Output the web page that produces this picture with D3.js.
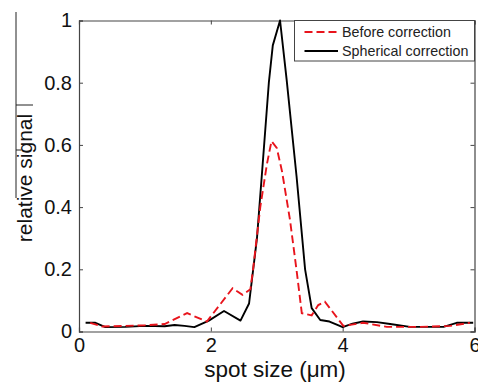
<!DOCTYPE html>
<html><head><meta charset="utf-8">
<script src="https://cdn.jsdelivr.net/npm/d3@7"></script>
<style>body{margin:0;background:#fff}svg{display:block}text{font-family:"Liberation Sans",Arial,sans-serif}</style>
</head><body>
<svg id="c" width="478" height="385"></svg>
<script>
const xTicks = [0, 2, 4, 6];
const yTicks = [0, 0.2, 0.4, 0.6, 0.8, 1];
const yTickLabels = ["0", "0.2", "0.4", "0.6", "0.8", "1"];
const seriesNames = ["Before correction", "Spherical correction"];
const beforeX = [0.17,0.35,0.7,1.0,1.3,1.64,1.94,2.33,2.48,2.6,2.64,2.75,2.85,2.92,3.0,3.08,3.2,3.3,3.38,3.53,3.63,3.73,4.01,4.31,4.67,5.17,5.63,5.93];
const beforeY = [0.028,0.016,0.018,0.02,0.024,0.059,0.032,0.139,0.118,0.136,0.198,0.40,0.537,0.612,0.59,0.515,0.36,0.198,0.059,0.052,0.085,0.096,0.018,0.028,0.015,0.015,0.018,0.028];
const sphX = [0.1,0.25,0.4,0.7,1.0,1.3,1.45,1.6,1.75,1.97,2.2,2.45,2.58,2.7,2.78,2.88,2.94,3.05,3.15,3.3,3.43,3.53,3.66,3.8,3.91,4.0,4.15,4.31,4.52,4.72,5.02,5.53,5.73,5.98];
const sphY = [0.028,0.028,0.014,0.015,0.018,0.017,0.021,0.018,0.014,0.035,0.066,0.035,0.09,0.30,0.52,0.80,0.92,1.0,0.81,0.50,0.20,0.075,0.037,0.032,0.022,0.014,0.025,0.032,0.03,0.024,0.015,0.015,0.028,0.028];

const svg = d3.select("#c");
const L = 79, R = 474.5, T = 20.5, B = 331.5;
const x = d3.scaleLinear().domain([0, 6]).range([L, R]);
const y = d3.scaleLinear().domain([0, 1]).range([B, T]);
const axisCol = "#444";

// artifact line at far left
svg.append("line").attr("x1",16).attr("x2",16).attr("y1",12).attr("y2",198).attr("stroke","#222").attr("stroke-width",1);
svg.append("line").attr("x1",16).attr("x2",33).attr("y1",105).attr("y2",105).attr("stroke","#222").attr("stroke-width",1);
svg.append("line").attr("x1",16).attr("x2",21).attr("y1",150).attr("y2",150).attr("stroke","#222").attr("stroke-width",1);

const fs = 20;
const xAxis = d3.axisBottom(x).tickValues(xTicks).tickSize(-4).tickPadding(6).tickFormat(d3.format("d"));
const gx = svg.append("g").attr("transform", `translate(0,${B})`).call(xAxis);
const yAxis = d3.axisLeft(y).tickValues(yTicks).tickSize(-4).tickPadding(7).tickFormat((d,i)=>yTickLabels[i]);
const gy = svg.append("g").attr("transform", `translate(${L},0)`).call(yAxis);
const gxt = svg.append("g").attr("transform", `translate(0,${T})`).call(d3.axisTop(x).tickValues(xTicks).tickSize(-4).tickFormat(""));
const gyr = svg.append("g").attr("transform", `translate(${R},0)`).call(d3.axisRight(y).tickValues(yTicks).tickSize(-4).tickFormat(""));
[gx, gy, gxt, gyr].forEach(g => {
  g.select(".domain").attr("stroke", axisCol).attr("stroke-width", 1.2);
  g.selectAll(".tick line").attr("stroke", axisCol);
  g.selectAll("text").attr("font-size", fs).attr("fill", "#111").attr("font-family", '"Liberation Sans",Arial,sans-serif');
});

const line = d3.line().x(d => x(d[0])).y(d => y(d[1]));
const before = beforeX.map((v,i)=>[v, beforeY[i]]);
const sph = sphX.map((v,i)=>[v, sphY[i]]);
svg.append("path").datum(sph).attr("d", line).attr("fill","none").attr("stroke","#000").attr("stroke-width",1.9).attr("stroke-linejoin","round");
svg.append("path").datum(before).attr("d", line).attr("fill","none").attr("stroke","#e8141c").attr("stroke-width",1.9).attr("stroke-dasharray","8,4");

svg.append("text").attr("x", 275).attr("y", 377).attr("text-anchor","middle").attr("font-size", 22.5).attr("fill","#111").text("spot size (\u03bcm)");
svg.append("text").attr("transform", `translate(32,178) rotate(-90)`).attr("text-anchor","middle").attr("font-size", 21).attr("fill","#111").text("relative signal");

const lg = svg.append("g");
lg.append("rect").attr("x",294.5).attr("y",T).attr("width",R-294.5).attr("height",40.5).attr("fill","#fff").attr("stroke",axisCol).attr("stroke-width",1);
const rows = [{n:seriesNames[0], c:"#e8141c", d:"8,4", yy:32},{n:seriesNames[1], c:"#000", d:null, yy:51}];
rows.forEach(r => {
  const ln = lg.append("line").attr("x1",304.5).attr("x2",338).attr("y1",r.yy).attr("y2",r.yy).attr("stroke",r.c).attr("stroke-width",1.8);
  if (r.d) ln.attr("stroke-dasharray", r.d);
  lg.append("text").attr("x",342).attr("y",r.yy+5).attr("font-size",14.3).attr("fill","#222").text(r.n);
});
</script>
</body></html>
